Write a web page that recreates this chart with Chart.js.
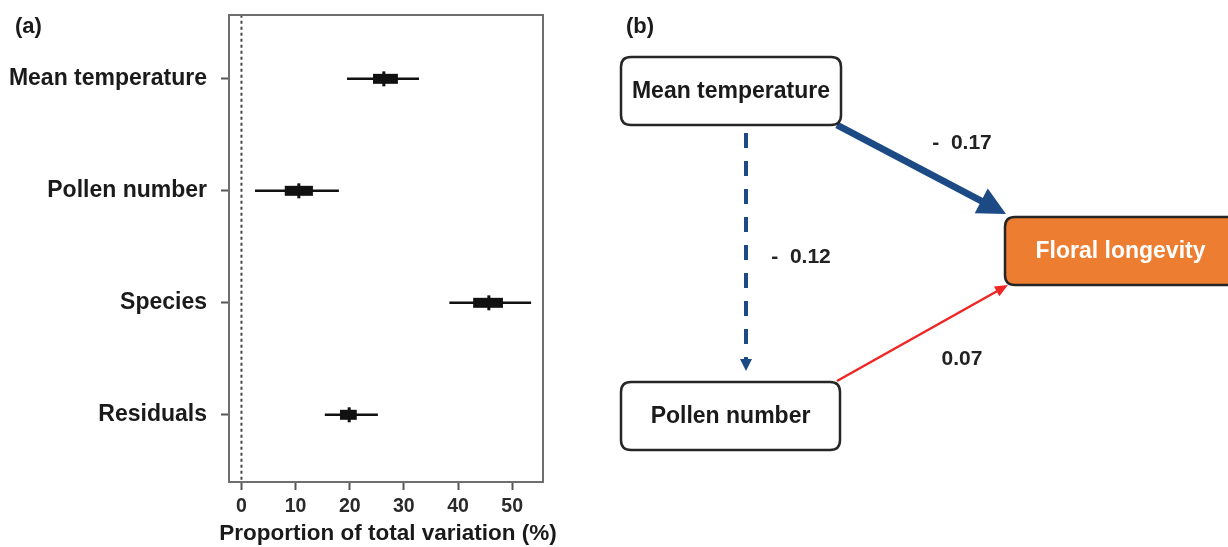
<!DOCTYPE html>
<html><head><meta charset="utf-8">
<script src="https://cdn.jsdelivr.net/npm/chart.js@4"></script>
<style>
html,body{margin:0;padding:0;background:#fff;}
#wrap{position:relative;width:1228px;height:547px;overflow:hidden;}
.pane{position:absolute;top:0;height:547px;}
</style></head><body>
<div id="wrap">
<div class="pane" style="left:0;width:600px"><canvas id="ca" width="600" height="547"></canvas></div>
<div class="pane" style="left:600px;width:628px"><canvas id="cb" width="628" height="547"></canvas></div>
</div>
<script>
// ---------- data ----------
const categories = ['Mean temperature', 'Pollen number', 'Species', 'Residuals'];
const lower  = [19.5,  2.5, 38.4, 15.4];
const q1     = [24.3,  8.0, 42.8, 18.2];
const median = [26.3, 10.6, 45.7, 19.9];
const q3     = [28.9, 13.2, 48.3, 21.3];
const upper  = [32.8, 18.0, 53.5, 25.2];
const xTicks = [0, 10, 20, 30, 40, 50];
const xTitle = 'Proportion of total variation (%)';
const panelLabels = ['(a)', '(b)'];
const nodeNames = ['Mean temperature', 'Pollen number', 'Floral longevity'];
const pathFrom = [0, 0, 1];
const pathTo = [2, 1, 2];
const pathCoefs = ['- 0.17', '- 0.12', '0.07'];

// ---------- style / layout ----------
const FONT = "'Liberation Sans', Arial, Helvetica, sans-serif";
const ink = '#1a1a1a';
const rowIdx = categories.map((c, i) => i + 1);

function bold(size) { return {family: FONT, size: size, weight: 'bold'}; }

// ---------- panel (a) ----------
const dsA = [];
dsA.push({type: 'line', data: [{x: 0, y: 0}, {x: 0, y: 5}], borderColor: '#4a4a4a', borderWidth: 2,
  borderDash: [3, 3], pointRadius: 0});
categories.forEach((c, i) => {
  dsA.push({type: 'line', data: [{x: lower[i], y: rowIdx[i]}, {x: upper[i], y: rowIdx[i]}],
    borderColor: '#111', borderWidth: 2.5, pointRadius: 0});
  dsA.push({type: 'line', data: [{x: q1[i], y: rowIdx[i]}, {x: q3[i], y: rowIdx[i]}],
    borderColor: '#111', borderWidth: 10, borderCapStyle: 'butt', pointRadius: 0});
});
dsA.push({type: 'scatter', data: median.map((m, i) => ({x: m, y: rowIdx[i]})),
  pointStyle: 'line', pointRotation: 90, pointRadius: 7.5, pointBorderWidth: 3,
  pointBorderColor: '#111', pointBackgroundColor: '#111'});

const frameA = {
  id: 'frameA',
  afterDraw(chart) {
    const {ctx, chartArea: a} = chart;
    ctx.save();
    ctx.strokeStyle = '#6e6e6e';
    ctx.lineWidth = 2;
    ctx.strokeRect(a.left, a.top, a.right - a.left, a.bottom - a.top);
    ctx.fillStyle = ink;
    ctx.font = 'bold 22px ' + FONT;
    ctx.textBaseline = 'middle';
    ctx.textAlign = 'left';
    ctx.fillText(panelLabels[0], 15, 27);
    // axis title (drawn here so it is not squeezed to the plot width)
    ctx.font = 'bold 22.5px ' + FONT;
    ctx.textAlign = 'center';
    ctx.fillText(xTitle, (a.left + a.right) / 2 + 2, 534);
    ctx.restore();
  }
};

new Chart(document.getElementById('ca'), {
  type: 'scatter',
  data: {datasets: dsA},
  plugins: [frameA],
  options: {
    responsive: false, animation: false,
    layout: {padding: {left: 0, right: 57, top: 15, bottom: 0}},
    plugins: {legend: {display: false}, tooltip: {enabled: false}},
    scales: {
      x: {
        type: 'linear', min: -2.3, max: 55.7,
        afterBuildTicks: s => { s.ticks = xTicks.map(v => ({value: v})); },
        afterFit: s => { s.height = 65; s.paddingLeft = 0; s.paddingRight = 0; },
        ticks: {font: bold(19.5), color: '#2a2a2a', padding: 5},
        grid: {display: true, drawOnChartArea: false, drawTicks: true, tickLength: 8, tickWidth: 2, tickColor: '#555'},
        border: {display: false}
      },
      y: {
        type: 'linear', min: 0.43, max: 4.6, reverse: true,
        afterBuildTicks: s => { s.ticks = rowIdx.map(v => ({value: v})); },
        afterFit: s => { s.width = 229; s.paddingTop = 0; s.paddingBottom = 0; },
        ticks: {callback: v => categories[v - 1], font: bold(23), color: ink, padding: 14},
        grid: {display: true, drawOnChartArea: false, drawTicks: true, tickLength: 8, tickWidth: 2, tickColor: '#555'},
        border: {display: false}
      }
    }
  }
});

// ---------- panel (b) ----------
const layoutB = {
  nodes: [
    {x0: 621, x1: 841, y0: 57, y1: 125, fill: '#ffffff', text: ink},
    {x0: 621, x1: 840, y0: 382, y1: 450, fill: '#ffffff', text: ink},
    {x0: 1005, x1: 1240, y0: 217, y1: 285, fill: '#ED7D31', text: '#ffffff'}
  ],
  arrows: [
    {from: [837, 125], to: [1006, 214], color: '#1B4A85', width: 7, dash: [], headLen: 28, headW: 28},
    {from: [746, 133], to: [746, 371], color: '#1B4A85', width: 4, dash: [15, 13], headLen: 12, headW: 12},
    {from: [837, 381], to: [1008, 285], color: '#F02525', width: 2.5, dash: [], headLen: 13, headW: 11}
  ],
  coefPos: [[962, 143], [801, 257], [962, 359]],
  labelPos: [626, 27]
};

function headBase(a) {
  const dx = a.to[0] - a.from[0], dy = a.to[1] - a.from[1];
  const L = Math.hypot(dx, dy);
  return [a.to[0] - dx / L * a.headLen * 0.9, a.to[1] - dy / L * a.headLen * 0.9];
}

const dsB = pathCoefs.map((c, k) => {
  const a = layoutB.arrows[k];
  const b = headBase(a);
  return {type: 'line', data: [{x: a.from[0], y: a.from[1]}, {x: b[0], y: b[1]}],
    borderColor: a.color, borderWidth: a.width, borderDash: a.dash, borderCapStyle: 'butt', pointRadius: 0};
});

function rr(ctx, x0, y0, x1, y1, r) {
  ctx.beginPath();
  ctx.moveTo(x0 + r, y0);
  ctx.lineTo(x1 - r, y0);
  ctx.quadraticCurveTo(x1, y0, x1, y0 + r);
  ctx.lineTo(x1, y1 - r);
  ctx.quadraticCurveTo(x1, y1, x1 - r, y1);
  ctx.lineTo(x0 + r, y1);
  ctx.quadraticCurveTo(x0, y1, x0, y1 - r);
  ctx.lineTo(x0, y0 + r);
  ctx.quadraticCurveTo(x0, y0, x0 + r, y0);
  ctx.closePath();
}

const diagramB = {
  id: 'diagramB',
  afterDatasetsDraw(chart) {
    const {ctx} = chart;
    const sx = chart.scales.x, sy = chart.scales.y;
    const P = (x, y) => [sx.getPixelForValue(x), sy.getPixelForValue(y)];
    ctx.save();
    // arrow heads
    pathCoefs.forEach((c, k) => {
      const a = layoutB.arrows[k];
      const dx = a.to[0] - a.from[0], dy = a.to[1] - a.from[1];
      const L = Math.hypot(dx, dy), ux = dx / L, uy = dy / L;
      const bx = a.to[0] - ux * a.headLen, by = a.to[1] - uy * a.headLen;
      const t = P(a.to[0], a.to[1]);
      const l = P(bx - uy * a.headW / 2, by + ux * a.headW / 2);
      const r = P(bx + uy * a.headW / 2, by - ux * a.headW / 2);
      ctx.fillStyle = a.color;
      ctx.beginPath();
      ctx.moveTo(t[0], t[1]); ctx.lineTo(l[0], l[1]); ctx.lineTo(r[0], r[1]);
      ctx.closePath(); ctx.fill();
    });
    // nodes
    nodeNames.forEach((n, i) => {
      const b = layoutB.nodes[i];
      const p0 = P(b.x0, b.y0), p1 = P(b.x1, b.y1);
      rr(ctx, p0[0], p0[1], p1[0], p1[1], 10);
      ctx.fillStyle = b.fill; ctx.fill();
      ctx.strokeStyle = '#262626'; ctx.lineWidth = 2.5; ctx.stroke();
      ctx.fillStyle = b.text;
      ctx.font = 'bold 23px ' + FONT;
      ctx.textAlign = 'center'; ctx.textBaseline = 'middle';
      const cx = (p0[0] + Math.min(p1[0], sx.getPixelForValue(1236))) / 2;
      ctx.fillText(n, cx, (p0[1] + p1[1]) / 2 + 1);
    });
    // coefficients
    ctx.fillStyle = '#222';
    ctx.font = 'bold 21px ' + FONT;
    ctx.textAlign = 'center'; ctx.textBaseline = 'middle';
    pathCoefs.forEach((c, k) => {
      const p = P(layoutB.coefPos[k][0], layoutB.coefPos[k][1]);
      ctx.fillText(c.replace('- ', '-  '), p[0], p[1]);
    });
    ctx.font = 'bold 22px ' + FONT;
    ctx.textAlign = 'left';
    ctx.fillStyle = ink;
    const lp = P(layoutB.labelPos[0], layoutB.labelPos[1]);
    ctx.fillText(panelLabels[1], lp[0], lp[1]);
    ctx.restore();
  }
};

new Chart(document.getElementById('cb'), {
  type: 'scatter',
  data: {datasets: dsB},
  plugins: [diagramB],
  options: {
    responsive: false, animation: false,
    layout: {padding: 0},
    plugins: {legend: {display: false}, tooltip: {enabled: false}},
    scales: {
      x: {type: 'linear', min: 600, max: 1228, display: false},
      y: {type: 'linear', min: 0, max: 547, reverse: true, display: false}
    }
  }
});
</script>
</body></html>
